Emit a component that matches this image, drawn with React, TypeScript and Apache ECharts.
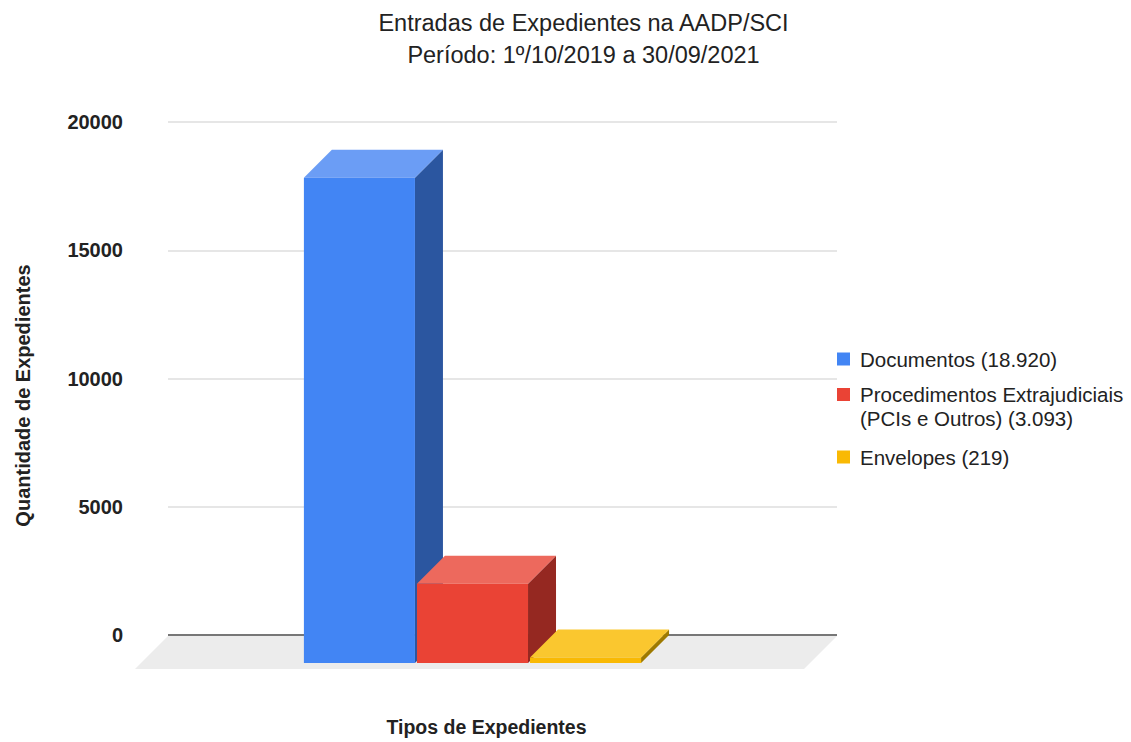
import React, { useEffect, useRef } from "react";
import * as echarts from "echarts";

const titleLines = ["Entradas de Expedientes na AADP/SCI", "Período: 1º/10/2019 a 30/09/2021"];
const categories = [""];
const seriesNames = ["Documentos", "Procedimentos Extrajudiciais", "Envelopes"];
const legendLabels = [
  "Documentos (18.920)",
  "\nProcedimentos Extrajudiciais\n(PCIs e Outros) (3.093)",
  "Envelopes (219)",
];
const seriesValues = [18920, 3093, 219];
const yTicks = { min: 0, max: 20000, interval: 5000 };
const xAxisTitle = "Tipos de Expedientes";
const yAxisTitle = "Quantidade de Expedientes";

const FONT = "'Liberation Sans', Arial, sans-serif";
const palette = [
  { front: "#4285f4", top: "#6b9df5", side: "#2b56a0" },
  { front: "#ea4335", top: "#ed695d", side: "#952821" },
  { front: "#f9b904", top: "#fac72f", side: "#9e7a00" },
];
const DX = 28;
const DY = 28;
const FLOOR_DX = 33;
const FLOOR_DY = 34;

function makeBarRender(idx: number) {
  const c = palette[idx];
  return (params: any, api: any) => {
    const v = api.value(1);
    const cat = api.value(0);
    const [cx, yTop] = api.coord([cat, v]);
    const [, y0] = api.coord([cat, 0]);
    const band = api.size([1, 0])[0];
    const w = band * 0.166;
    const xb = cx + band * (-0.255 + idx * 0.169);
    const xf = xb - DX;
    return {
      type: "group",
      children: [
        {
          type: "polygon",
          shape: { points: [[xf + w, yTop + DY], [xb + w, yTop], [xb + w, y0], [xf + w, y0 + DY]] },
          style: { fill: c.side },
        },
        {
          type: "polygon",
          shape: { points: [[xf, yTop + DY], [xf + w, yTop + DY], [xb + w, yTop], [xb, yTop]] },
          style: { fill: c.top },
        },
        {
          type: "rect",
          shape: { x: xf, y: yTop + DY, width: w, height: y0 - yTop },
          style: { fill: c.front },
        },
      ],
    };
  };
}

function floorRender(params: any, api: any) {
  const cs = params.coordSys;
  const [, y0] = api.coord([0, 0]);
  const l = cs.x;
  const r = cs.x + cs.width;
  return {
    type: "group",
    children: [
      {
        type: "polygon",
        shape: { points: [[l, y0 + 1], [r, y0 + 1], [r - FLOOR_DX, y0 + FLOOR_DY], [l - FLOOR_DX, y0 + FLOOR_DY]] },
        style: { fill: "#ececec" },
      },
      {
        type: "line",
        shape: { x1: l, y1: y0, x2: r, y2: y0 },
        style: { stroke: "#777777", lineWidth: 2 },
      },
    ],
  };
}

export default function App() {
  const ref = useRef<HTMLDivElement>(null);
  useEffect(() => {
    if (!ref.current) return;
    const chart = echarts.init(ref.current, null, { renderer: "svg" });
    const legendTops = [347, 358.5, 445];
    const option: any = {
      animation: false,
      backgroundColor: "#ffffff",
      title: {
        text: titleLines.join("\n"),
        left: 583.5,
        top: 7,
        textAlign: "center",
        padding: 0,
        textStyle: {
          fontFamily: FONT,
          fontSize: 23.5,
          fontWeight: "normal",
          color: "#222222",
          lineHeight: 32,
        },
      },
      legend: seriesNames.map((name, i) => ({
        data: [{ name, itemStyle: { color: palette[i].front } }],
        orient: "vertical",
        left: 837,
        top: legendTops[i],
        padding: 0,
        icon: "rect",
        itemWidth: 13,
        itemHeight: 13,
        formatter: () => legendLabels[i],
        textStyle: {
          fontFamily: FONT,
          fontSize: 20.5,
          color: "#222222",
          lineHeight: 24,
          padding: [0, 0, 0, 5],
        },
        selectedMode: false,
      })),
      grid: { left: 168, right: 294, top: 122, bottom: 102 },
      xAxis: {
        type: "category",
        data: categories,
        axisLine: { show: false },
        axisTick: { show: false },
        axisLabel: { show: false },
        splitLine: { show: false },
        name: xAxisTitle,
        nameLocation: "middle",
        nameGap: 82,
        nameTextStyle: {
          fontFamily: FONT,
          fontSize: 19.5,
          fontWeight: "bold",
          color: "#222222",
          padding: [0, 32, 0, 0],
        },
      },
      yAxis: {
        type: "value",
        min: yTicks.min,
        max: yTicks.max,
        interval: yTicks.interval,
        axisLine: { show: false },
        axisTick: { show: false },
        axisLabel: {
          margin: 45,
          fontFamily: FONT,
          fontSize: 20,
          fontWeight: "bold",
          color: "#222222",
          formatter: (v: number) => String(v),
        },
        splitLine: { lineStyle: { color: "#e6e6e6", width: 2 } },
        name: yAxisTitle,
        nameLocation: "middle",
        nameGap: 135,
        nameTextStyle: {
          fontFamily: FONT,
          fontSize: 20,
          fontWeight: "bold",
          color: "#222222",
          padding: [0, 34, 0, 0],
        },
      },
      series: [
        {
          type: "custom",
          name: "floor",
          renderItem: floorRender,
          data: [[0, 0]],
          silent: true,
        },
        ...seriesNames.map((name, i) => ({
          type: "custom",
          name,
          renderItem: makeBarRender(i),
          itemStyle: { color: palette[i].front },
          data: [[0, seriesValues[i]]],
        })),
      ],
    };
    chart.setOption(option);
    return () => chart.dispose();
  }, []);
  return (
    <div
      ref={ref}
      style={{ position: "fixed", left: 0, top: 0, width: 1131, height: 742, background: "#fff" }}
    />
  );
}
